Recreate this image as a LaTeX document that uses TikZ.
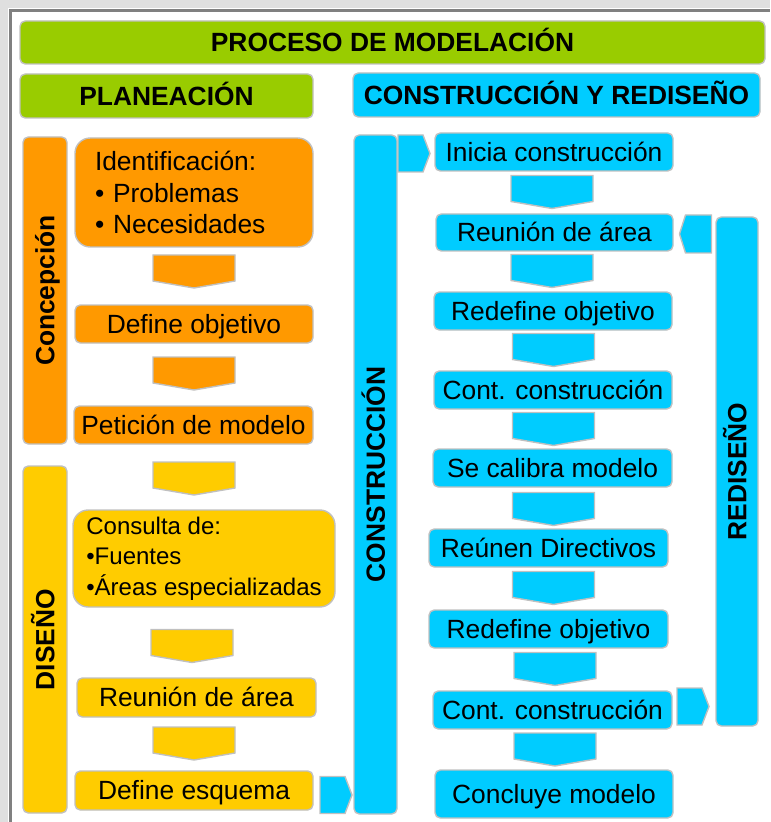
\documentclass[tikz,border=0pt]{standalone}
\usepackage{fontspec}
\setmainfont{Liberation Sans}

\newcommand{\pix}{0.03cm}
\definecolor{verde}{HTML}{99CC00}
\definecolor{naranja}{HTML}{FF9900}
\definecolor{amarillo}{HTML}{FFCC00}
\definecolor{celeste}{HTML}{00CCFF}
\definecolor{borde}{HTML}{C0C0C0}

\tikzset{
  base/.style={draw=borde, line width=1.2pt, rounded corners=4.5pt, inner sep=0pt,
    font=\fontsize{22.5}{27}\selectfont},
  caja/.style={base, text height=16pt, text depth=0pt},
  titulo/.style={caja, font=\fontsize{22.5}{27}\selectfont\bfseries},
  barra/.style={caja, rotate=90, font=\fontsize{22.5}{27}\selectfont\bfseries},
  lista/.style={base, rounded corners=13pt, align=left},
  flecha/.style={draw=borde, line width=1.2pt},
  pics/flechab/.style={code={
    \draw[flecha, fill=#1] (-41,-16.5) -- (41,-16.5) -- (41,9.5) -- (0,16.5) -- (-41,9.5) -- cycle;}},
  pics/flechad/.style={code={
    \draw[flecha, fill=#1] (-16,-18.5) -- (9,-18.5) -- (16,0) -- (9,18.5) -- (-16,18.5) -- cycle;}},
  pics/flechai/.style={code={
    \draw[flecha, fill=#1] (16,-19) -- (-10,-19) -- (-16,0) -- (-10,19) -- (16,19) -- cycle;}}
}

\begin{document}
\begin{tikzpicture}[x=0.03cm, y=-0.03cm]
  \useasboundingbox (0,0) rectangle (770,822);
  % marco
  \fill[gray!25] (0,0) rectangle (770,8);
  \fill[gray!25] (0,0) rectangle (8,822);
  \draw[gray, line width=2.5pt] (10.5,822) -- (10.5,10.5) -- (770,10.5);

  % encabezados
  \node[titulo, fill=verde, minimum width=745*\pix, minimum height=43*\pix] (proc) at (392.5,42.5) {PROCESO DE MODELACIÓN};
  \node[titulo, fill=verde, minimum width=293*\pix, minimum height=44*\pix] (plan) at (166.5,96) {PLANEACIÓN};
  \node[titulo, fill=celeste, minimum width=407*\pix, minimum height=44*\pix] (cyr) at (556.5,95) {CONSTRUCCIÓN Y REDISEÑO};

  % planeacion: concepcion
  \node[barra, fill=naranja, minimum width=307*\pix, minimum height=44*\pix] (concep) at (45,290.5) {Concepción};
  \node[lista, fill=naranja, inner xsep=20*\pix, text width=198*\pix, minimum width=238*\pix, minimum height=109*\pix] (ident) at (194,192.5)
    {Identificación:\\\textbullet{} Problemas\\\textbullet{} Necesidades};
  \pic (fa1) at (194,271.5) {flechab=naranja};
  \node[caja, fill=naranja, minimum width=238*\pix, minimum height=38*\pix] (defobj) at (194,324) {Define objetivo};
  \pic (fa2) at (194,373.5) {flechab=naranja};
  \node[caja, fill=naranja, minimum width=239*\pix, minimum height=38*\pix] (pet) at (193.5,425) {Petición de modelo};

  % planeacion: diseno
  \node[barra, fill=amarillo, minimum width=347*\pix, minimum height=44*\pix] (dis) at (45,639.5) {DISEÑO};
  \pic (fa3) at (194,478.5) {flechab=amarillo};
  \node[lista, fill=amarillo, font=\fontsize{20.5}{26}\selectfont, inner xsep=4*\pix,
    minimum width=262*\pix, minimum height=97*\pix] (cons) at (204,558.5)
    {Consulta de:\\\textbullet Fuentes\\\textbullet Áreas especializadas};
  \pic (fa4) at (192,646) {flechab=amarillo};
  \node[caja, fill=amarillo, minimum width=239*\pix, minimum height=39*\pix] (reuiz) at (196.5,697.5) {Reunión de área};
  \pic (fa5) at (194,743.5) {flechab=amarillo};
  \node[caja, fill=amarillo, minimum width=238*\pix, minimum height=39*\pix] (defesq) at (194,790.5) {Define esquema};
  \pic (fr1) at (336,795) {flechad=celeste};

  % construccion
  \node[barra, fill=celeste, minimum width=679*\pix, minimum height=43*\pix] (constr) at (375.5,474.5) {CONSTRUCCIÓN};
  \pic (fr2) at (414,153.5) {flechad=celeste};
  \node[caja, fill=celeste, minimum width=238*\pix, minimum height=38*\pix] (inicia) at (554,152) {Inicia construcción};
  \pic (fb1) at (552,192) {flechab=celeste};
  \node[caja, fill=celeste, minimum width=237*\pix, minimum height=37*\pix] (reude) at (554.5,232.5) {Reunión de área};
  \pic (fb2) at (552,271) {flechab=celeste};
  \node[caja, fill=celeste, minimum width=238*\pix, minimum height=38*\pix] (redef1) at (553,311) {Redefine objetivo};
  \pic (fb3) at (553.5,350) {flechab=celeste};
  \node[caja, fill=celeste, minimum width=238*\pix, minimum height=38*\pix] (cont1) at (553,390) {Cont. construcción};
  \pic (fb4) at (553.5,429) {flechab=celeste};
  \node[caja, fill=celeste, minimum width=239*\pix, minimum height=38*\pix] (calib) at (552.5,468) {Se calibra modelo};
  \pic (fb5) at (553.5,509) {flechab=celeste};
  \node[caja, fill=celeste, minimum width=239*\pix, minimum height=38*\pix] (reunen) at (548.5,548) {Reúnen Directivos};
  \pic (fb6) at (553.5,588) {flechab=celeste};
  \node[caja, fill=celeste, minimum width=239*\pix, minimum height=38*\pix] (redef2) at (548.5,629) {Redefine objetivo};
  \pic (fb7) at (555,669) {flechab=celeste};
  \node[caja, fill=celeste, minimum width=239*\pix, minimum height=38*\pix] (cont2) at (552.5,710) {Cont. construcción};
  \pic (fb8) at (555,749.5) {flechab=celeste};
  \node[caja, fill=celeste, minimum width=238*\pix, minimum height=48*\pix] (concl) at (554,794) {Concluye modelo};

  % rediseno
  \node[barra, fill=celeste, minimum width=509*\pix, minimum height=42*\pix] (redis) at (737,471.5) {REDISEÑO};
  \pic (fl1) at (695.5,234) {flechai=celeste};
  \pic (fr3) at (693,706.5) {flechad=celeste};
\end{tikzpicture}
\end{document}
